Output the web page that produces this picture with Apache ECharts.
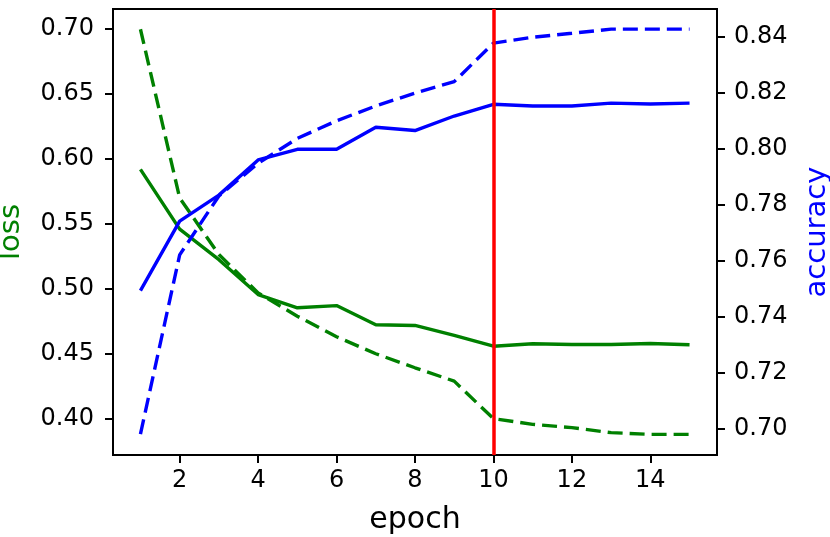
<!DOCTYPE html>
<html>
<head>
<meta charset="utf-8">
<script src="https://cdn.jsdelivr.net/npm/echarts@6/dist/echarts.min.js"></script>
<style>
  html, body { margin: 0; padding: 0; background: #fff; }
  #chart { width: 830px; height: 537px; }
</style>
</head>
<body>
<div id="chart"></div>
<script>
// values
const epochs = [1, 2, 3, 4, 5, 6, 7, 8, 9, 10, 11, 12, 13, 14, 15];
const valLoss = [0.592, 0.546, 0.5225, 0.4956, 0.4854, 0.4871, 0.4723, 0.4718, 0.4641, 0.4558, 0.4577, 0.4571, 0.4571, 0.4579, 0.4569];
const trainLoss = [0.700, 0.570, 0.5264, 0.4969, 0.4789, 0.4631, 0.450, 0.4392, 0.4289, 0.400, 0.3956, 0.3931, 0.3892, 0.3879, 0.3879];
const valAcc = [0.7493, 0.7742, 0.7835, 0.7961, 0.7999, 0.7999, 0.8078, 0.8066, 0.8118, 0.8160, 0.8154, 0.8154, 0.8164, 0.8161, 0.8164];
const trainAcc = [0.698, 0.7621, 0.7832, 0.7949, 0.8038, 0.8101, 0.8154, 0.8200, 0.8241, 0.8379, 0.840, 0.8414, 0.8429, 0.8429, 0.8429];
const markEpoch = 10;

const xTicks = [2, 4, 6, 8, 10, 12, 14];
const lossTicks = [0.40, 0.45, 0.50, 0.55, 0.60, 0.65, 0.70];
const accTicks = [0.70, 0.72, 0.74, 0.76, 0.78, 0.80, 0.82, 0.84];

const FONT = 'DejaVu Sans';
const chart = echarts.init(document.getElementById('chart'), null, { renderer: 'canvas' });

function pairs(ys) {
  return epochs.map((e, i) => [e, ys[i]]);
}

const axisLine = { show: true, onZero: false, lineStyle: { color: '#000', width: 2 } };
const axisTick = { show: true, length: 8, lineStyle: { color: '#000', width: 2 } };

const options = {
  animation: false,
  grid: {
    left: 113, right: 113, top: 9, bottom: 82,
    containLabel: false,
    outerBoundsMode: 'none',
    show: true, borderColor: '#000', borderWidth: 2
  },
  xAxis: {
    type: 'value',
    min: 0.3, max: 15.7,
    name: 'epoch',
    nameLocation: 'middle',
    nameGap: 50,
    nameTextStyle: { fontFamily: FONT, fontSize: 30, color: '#000' },
    axisLine: axisLine,
    axisTick: Object.assign({ customValues: xTicks }, axisTick),
    axisLabel: { customValues: xTicks, margin: 14, fontFamily: FONT, fontSize: 24, color: '#000' },
    splitLine: { show: false }
  },
  yAxis: [{
    type: 'value',
    position: 'left',
    min: 0.372, max: 0.7156,
    name: 'loss',
    nameLocation: 'middle',
    nameRotate: 90,
    nameGap: 87,
    nameTextStyle: { fontFamily: FONT, fontSize: 29, color: '#008000' },
    axisLine: axisLine,
    axisTick: Object.assign({ customValues: lossTicks }, axisTick),
    axisLabel: {
      customValues: lossTicks, margin: 19, fontFamily: FONT, fontSize: 24, color: '#000',
      formatter: v => v.toFixed(2)
    },
    splitLine: { show: false }
  }, {
    type: 'value',
    position: 'right',
    min: 0.6905, max: 0.8501,
    name: 'accuracy',
    nameLocation: 'middle',
    nameRotate: 90,
    nameGap: 86,
    nameTextStyle: { fontFamily: FONT, fontSize: 29, color: '#0000ff' },
    axisLine: axisLine,
    axisTick: Object.assign({ customValues: accTicks }, axisTick),
    axisLabel: {
      customValues: accTicks, margin: 17, fontFamily: FONT, fontSize: 24, color: '#000',
      formatter: v => v.toFixed(2)
    },
    splitLine: { show: false }
  }],
  series: [{
    name: 'val loss',
    type: 'line',
    yAxisIndex: 0,
    data: pairs(valLoss),
    showSymbol: false,
    lineStyle: { color: '#008000', width: 3.4 },
    z: 2
  }, {
    name: 'train loss',
    type: 'line',
    yAxisIndex: 0,
    data: pairs(trainLoss),
    showSymbol: false,
    lineStyle: { color: '#008000', width: 3.4, type: [15, 7] },
    z: 2
  }, {
    name: 'val acc',
    type: 'line',
    yAxisIndex: 1,
    data: pairs(valAcc),
    showSymbol: false,
    lineStyle: { color: '#0000ff', width: 3.4 },
    z: 3
  }, {
    name: 'train acc',
    type: 'line',
    yAxisIndex: 1,
    data: pairs(trainAcc),
    showSymbol: false,
    lineStyle: { color: '#0000ff', width: 3.4, type: [15, 7] },
    z: 3,
    markLine: {
      silent: true,
      symbol: 'none',
      label: { show: false },
      lineStyle: { color: '#ff0000', width: 3.5, type: 'solid' },
      data: [{ xAxis: markEpoch }],
      z: 5
    }
  }]
};

chart.setOption(options);
</script>
</body>
</html>
